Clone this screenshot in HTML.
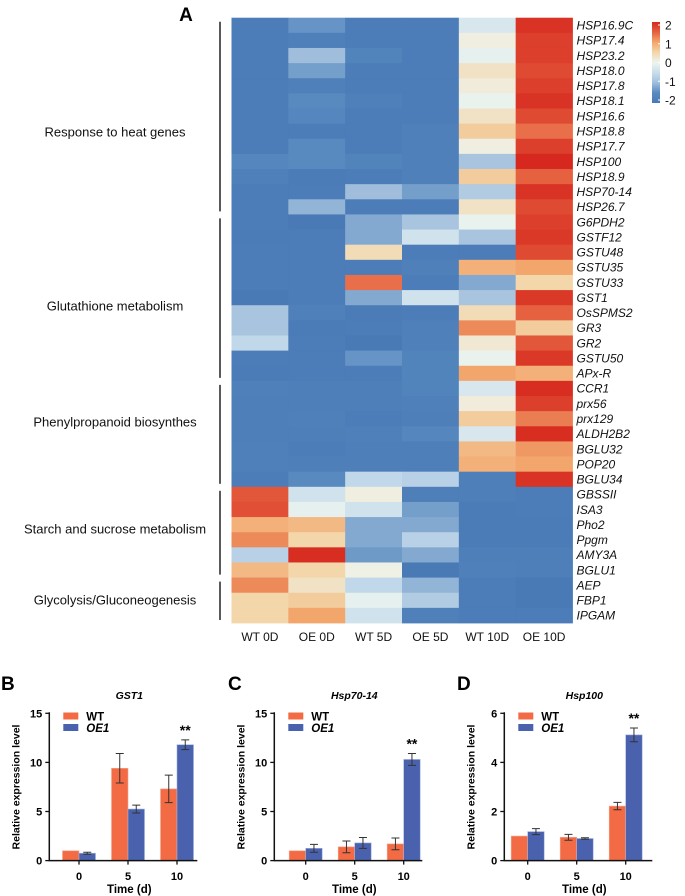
<!DOCTYPE html>
<html><head><meta charset="utf-8">
<style>
html,body{margin:0;padding:0;background:#fff;}
body{width:685px;height:896px;overflow:hidden;}
svg{display:block;font-family:"Liberation Sans",Arial,sans-serif;}
</style></head>
<body>
<svg id="fig" width="685" height="896" viewBox="0 0 685 896">
<text x="186" y="21" font-size="19" font-weight="bold" text-anchor="middle">A</text>
<g id="hm"></g>
<g id="groups"></g>
<g id="legend"></g>
<g id="bars"></g>
</svg>
<script>
const NS="http://www.w3.org/2000/svg";
const genes=["HSP16.9C","HSP17.4","HSP23.2","HSP18.0","HSP17.8","HSP18.1","HSP16.6","HSP18.8","HSP17.7","HSP100","HSP18.9","HSP70-14","HSP26.7","G6PDH2","GSTF12","GSTU48","GSTU35","GSTU33","GST1","OsSPMS2","GR3","GR2","GSTU50","APx-R","CCR1","prx56","prx129","ALDH2B2","BGLU32","POP20","BGLU34","GBSSII","ISA3","Pho2","Ppgm","AMY3A","BGLU1","AEP","FBP1","IPGAM"];
const samples=["WT 0D","OE 0D","WT 5D","OE 5D","WT 10D","OE 10D"];
const zvals=[
[-1.9,-1.4,-1.9,-1.9,-0.3,1.9],[-1.9,-1.8,-1.9,-1.9,0.1,1.8],[-1.9,-1.0,-1.7,-1.9,-0.1,1.8],[-1.9,-1.3,-1.9,-1.9,0.3,1.7],[-1.9,-1.8,-1.9,-1.9,0.15,1.8],
[-1.9,-1.5,-1.8,-1.9,-0.05,1.9],[-1.9,-1.6,-1.9,-1.9,0.3,1.7],[-1.9,-1.9,-1.9,-1.8,0.6,1.4],[-1.9,-1.5,-1.9,-1.8,0.1,1.8],[-1.6,-1.5,-1.7,-1.8,-0.9,2.0],
[-1.8,-1.95,-1.9,-1.8,0.6,1.5],[-1.9,-1.9,-1.0,-1.3,-0.8,1.9],[-1.9,-1.1,-1.9,-1.9,0.3,1.7],[-1.9,-2.0,-1.2,-0.9,-0.05,1.8],[-1.95,-1.9,-1.2,-0.4,-0.9,1.85],
[-1.9,-1.9,0.4,-1.9,-1.9,1.7],[-1.9,-1.9,-1.9,-1.8,0.9,1.0],[-1.9,-1.9,1.4,-1.9,-1.2,0.5],[-2.0,-1.9,-1.2,-0.4,-0.9,1.85],[-0.9,-1.8,-1.95,-1.9,0.4,1.5],
[-0.9,-1.95,-1.9,-1.8,1.2,0.6],[-0.6,-1.9,-2.0,-1.8,0.2,1.6],[-1.9,-1.9,-1.4,-1.7,-0.05,1.85],[-1.95,-1.9,-1.9,-1.7,1.0,0.9],[-1.8,-1.85,-1.85,-1.7,-0.3,1.95],
[-1.85,-1.85,-1.85,-1.8,0.15,1.8],[-1.85,-1.8,-1.9,-1.85,0.6,1.3],[-1.85,-1.85,-1.8,-1.6,-0.3,1.95],[-1.8,-1.9,-1.85,-1.85,0.8,1.1],[-1.8,-1.85,-1.85,-1.85,0.9,1.0],
[-1.9,-1.5,-0.6,-0.7,-1.85,1.9],[1.6,-0.4,0.1,-1.85,-1.85,-1.9],[1.65,-0.1,-0.4,-1.3,-1.95,-1.9],[0.9,0.8,-1.2,-1.2,-1.95,-1.95],[1.2,0.5,-1.2,-0.7,-1.95,-1.95],
[-0.7,1.95,-1.35,-1.2,-1.85,-1.85],[0.8,0.5,0.05,-2.05,-1.8,-1.85],[1.2,0.3,-0.6,-1.1,-1.9,-2.05],[0.5,0.6,-0.1,-0.8,-1.9,-2.05],[0.5,1.0,-0.4,-1.8,-1.9,-1.9]];
const groupNames=["Response to heat genes","Glutathione metabolism","Phenylpropanoid biosynthes","Starch and sucrose metabolism","Glycolysis/Gluconeogenesis"];
const groupSizes=[13,11,7,6,3];
const legendTicks=[2,1,0,-1,-2];
const timeLabels=["0","5","10"];
const gstWT=[1.0,9.4,7.3], gstWTerr=[0,1.5,1.4], gstOE=[0.75,5.25,11.8], gstOEerr=[0.1,0.4,0.5];
const hspWT=[1.0,1.4,1.7], hspWTerr=[0,0.6,0.6], hspOE=[1.25,1.8,10.3], hspOEerr=[0.4,0.55,0.6];
const h100WT=[1.0,0.95,2.22], h100WTerr=[0,0.12,0.15], h100OE=[1.18,0.9,5.12], h100OEerr=[0.12,0.03,0.28];
const gstTicks=[0,5,10,15], hspTicks=[0,5,10,15], h100Ticks=[0,2,4,6];

function el(tag,attrs,parent,txt){const e=document.createElementNS(NS,tag);for(const k in attrs)e.setAttribute(k,attrs[k]);if(txt!==undefined)e.textContent=txt;parent.appendChild(e);return e;}
const stops=[[-2,[74,122,182]],[-1.5,[88,138,192]],[-1,[160,190,220]],[-0.5,[200,222,236]],[0,[238,244,238]],[0.5,[243,214,170]],[1,[243,166,108]],[1.5,[229,97,64]],[2,[214,40,30]]];
function cmap(v){v=Math.max(-2,Math.min(2,v));for(let i=0;i<stops.length-1;i++){const a=stops[i],b=stops[i+1];if(v<=b[0]){const t=(v-a[0])/(b[0]-a[0]);const c=a[1].map((x,j)=>Math.round(x+(b[1][j]-x)*t));return `rgb(${c})`;}}return "rgb(214,40,30)";}

const hx0=231.5,hx1=572.5,hy0=17.7,hy1=623;
const cw=(hx1-hx0)/samples.length,rh=(hy1-hy0)/genes.length;
const hm=document.getElementById('hm');
zvals.forEach((row,r)=>{row.forEach((v,c)=>{
  const rc=el('rect',{x:hx0+c*cw,y:hy0+r*rh,width:cw+0.4,height:rh+0.4,fill:cmap(v)},hm);
  
  
});});
genes.forEach((g,r)=>{
  const t=el('text',{x:hx1+4,y:hy0+r*rh+rh/2+4.3,'font-size':12,'font-style':'italic',fill:'#111'},hm,g);
  
  
});
samples.forEach((s,c)=>{
  const t=el('text',{x:hx0+c*cw+cw/2,y:641,'font-size':12,'text-anchor':'middle',fill:'#111'},hm,s);
  
  
});
const gg=document.getElementById('groups');
const labelY=[136.5,310.5,426.5,533.5,604.5];
let acc=0;
groupSizes.forEach((n,i)=>{
  const ya=hy0+acc*rh+4, yb=hy0+(acc+n)*rh-3;
  const ln=el('line',{x1:220,x2:220,y1:ya,y2:yb,stroke:'#222','stroke-width':1.5},gg);
  
  
  const t=el('text',{x:115,y:labelY[i],'font-size':13,'text-anchor':'middle',fill:'#111'},gg,groupNames[i]);
  
  
  acc+=n;
});
const lg=document.getElementById('legend');
const defs=el('defs',{},lg);
const grad=el('linearGradient',{id:'lgr',x1:0,y1:0,x2:0,y2:1},defs);
stops.slice().reverse().forEach((s,i)=>el('stop',{offset:(i/(stops.length-1)),'stop-color':cmap(s[0])},grad));
const ly0=22,ly1=103,lx=652;
const bar=el('rect',{x:lx,y:ly0,width:8,height:ly1-ly0,fill:'url(#lgr)'},lg);


legendTicks.forEach(v=>{
  const y=ly0+3+(2-v)/4*(ly1-ly0-6);
  el('line',{x1:lx+6,x2:lx+8,y1:y,y2:y,stroke:'#fff','stroke-width':1},lg);
  const t=el('text',{x:lx+13,y:y+4.5,'font-size':12,fill:'#111'},lg,String(v));
  
  
});

const WTC='#f26b45',OEC='#4a62ad';
function panel(letter,lx,axisX,g0,title,wt,wterr,oe,oeerr,ticks,sig){
  const bg=document.getElementById('bars');
  const g=el('g',{},bg);
  
  
  const yTop=713.3,yBot=860.6,ymax=ticks[ticks.length-1];
  const ys=v=>yBot-(v/ymax)*(yBot-yTop);
  const xs=i=>g0+i*49;
  const bw=16.5;
  const L=el('text',{x:lx,y:690,'font-size':19,'font-weight':'bold'},g,letter);
  
  
  const T=el('text',{x:axisX+80,y:699,'font-size':10.5,'font-weight':'bold','font-style':'italic','text-anchor':'middle'},g,title);
  
  
  wt.forEach((v,i)=>{
    const b=el('rect',{x:xs(i)-bw,y:ys(v),width:bw,height:yBot-ys(v),fill:WTC,stroke:'#f7a58c','stroke-width':0.6},g);
    
    
    const o=el('rect',{x:xs(i),y:ys(oe[i]),width:bw,height:yBot-ys(oe[i]),fill:OEC,stroke:'#9fb0dc','stroke-width':0.6},g);
    
    
    [[xs(i)-bw/2,v,wterr[i]],[xs(i)+bw/2,oe[i],oeerr[i]]].forEach(([cx,m,e])=>{
      if(e<=0)return;
      const eb=el('path',{d:`M${cx},${ys(m+e)}V${ys(m-e)}M${cx-4},${ys(m+e)}H${cx+4}M${cx-4},${ys(m-e)}H${cx+4}`,stroke:'#333','stroke-width':1,fill:'none'},g);
      
      
    });
    const xl=el('text',{x:xs(i),y:880,'font-size':11,'font-weight':'bold','text-anchor':'middle'},g,timeLabels[i]);
    
    
  });
  const si=oe.length-1;
  const st=el('text',{x:xs(si)+bw/2,y:ys(oe[si]+oeerr[si])-5,'font-size':14,'font-weight':'bold','text-anchor':'middle'},g,sig);
  
  
  el('path',{d:`M${axisX},${yTop-1}V${yBot}H${axisX+148}`,stroke:'#111','stroke-width':1.5,fill:'none'},g);
  ticks.forEach(t=>{
    el('line',{x1:axisX-4,x2:axisX,y1:ys(t),y2:ys(t),stroke:'#111','stroke-width':1.3},g);
    const tl=el('text',{x:axisX-7,y:ys(t)+4,'font-size':11,'font-weight':'bold','text-anchor':'end'},g,String(t));
    
    
  });
  timeLabels.forEach((_,i)=>el('line',{x1:xs(i),x2:xs(i),y1:yBot,y2:yBot+4,stroke:'#111','stroke-width':1.3},g));
  const yl=el('text',{x:0,y:0,'font-size':10.5,'font-weight':'bold','text-anchor':'middle',transform:`translate(${axisX-30},787) rotate(-90)`},g,'Relative expression level');
  
  
  const xt=el('text',{x:axisX+80,y:893,'font-size':11.5,'font-weight':'bold','text-anchor':'middle'},g,'Time (d)');
  
  
  const s1=el('rect',{x:axisX+14,y:712.5,width:15,height:7,fill:WTC},g);
  
  
  const t1=el('text',{x:axisX+37,y:720.5,'font-size':11.5,'font-weight':'bold'},g,'WT');
  
  
  const s2=el('rect',{x:axisX+14,y:724,width:15,height:7,fill:OEC},g);
  
  
  const t2=el('text',{x:axisX+37,y:732,'font-size':11.5,'font-weight':'bold','font-style':'italic'},g,'OE1');
  
  
}
panel('B',1,49.3,79,'GST1',gstWT,gstWTerr,gstOE,gstOEerr,gstTicks,'**');
panel('C',228,274.3,305.7,'Hsp70-14',hspWT,hspWTerr,hspOE,hspOEerr,hspTicks,'**');
panel('D',457,504.3,527.7,'Hsp100',h100WT,h100WTerr,h100OE,h100OEerr,h100Ticks,'**');
</script>
</body></html>
